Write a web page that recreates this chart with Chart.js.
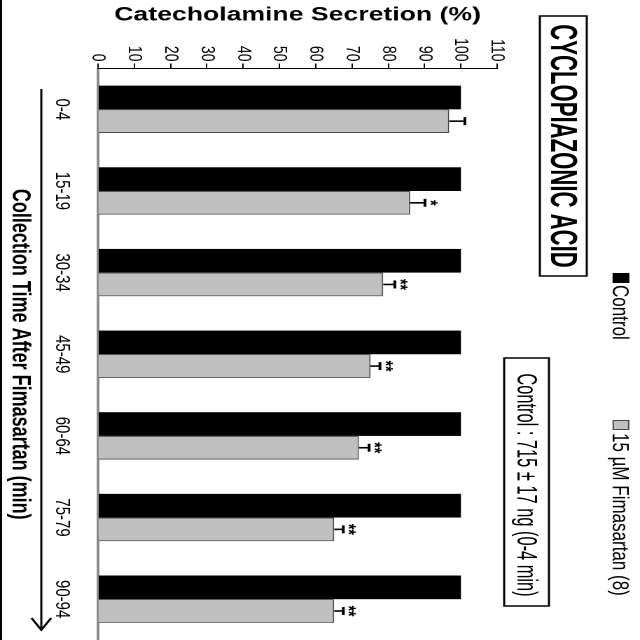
<!DOCTYPE html>
<html>
<head>
<meta charset="utf-8">
<script src="https://cdn.jsdelivr.net/npm/chart.js@4.4.0/dist/chart.umd.min.js"></script>
<style>
html, body { margin: 0; padding: 0; background: #fff; }
body { width: 640px; height: 640px; overflow: hidden; position: relative; }
/* the figure is drawn upright, then turned a quarter clockwise and stretched like the scan */
#wrap { position: absolute; left: 0; top: 0; width: 640px; height: 457px;
        transform-origin: 0 0; transform: matrix(0, 1, -1.4004, 0, 640, 0); }
</style>
</head>
<body>
<div id="wrap"><canvas id="chart" width="640" height="457"></canvas></div>
<script>
const categories = ['0-4', '15-19', '30-34', '45-49', '60-64', '75-79', '90-94'];
const controlValues = [100, 100, 100, 100, 100, 100, 100];
const fimaValues = [96.8, 86.0, 78.6, 75.1, 71.9, 65.1, 65.1];
const fimaSem = [4.3, 4.1, 3.2, 2.6, 2.8, 2.5, 2.5];
const fimaMarks = ['', '*', '**', '**', '**', '**', '**'];

const sans = "'Liberation Sans', Arial, sans-serif";
Chart.defaults.font.family = sans;
Chart.defaults.color = '#000';

// no narrow face installed, so squeeze the normal one
function narrowText(ctx, text, font, cx, cy, squeeze) {
    ctx.save();
    ctx.translate(cx, cy);
    ctx.scale(squeeze, 1);
    ctx.font = font;
    ctx.textAlign = 'center';
    ctx.textBaseline = 'middle';
    ctx.fillText(text, 0, 0);
    ctx.restore();
}

const decor = {
    id: 'decor',
    afterDatasetsDraw(chart) {
        const ctx = chart.ctx;
        const y = chart.scales.y;
        const meta = chart.getDatasetMeta(1);

        ctx.save();
        // SEM bars + significance marks
        ctx.strokeStyle = '#000';
        ctx.fillStyle = '#000';
        meta.data.forEach((bar, i) => {
            const top = y.getPixelForValue(fimaValues[i] + fimaSem[i]);
            ctx.lineWidth = 1.6;
            ctx.beginPath();
            ctx.moveTo(bar.x, bar.y);
            ctx.lineTo(bar.x, top);
            ctx.stroke();
            ctx.lineWidth = 2;
            ctx.beginPath();
            ctx.moveTo(bar.x - 4, top);
            ctx.lineTo(bar.x + 4, top);
            ctx.stroke();
            if (fimaMarks[i]) {
                ctx.font = 'bold 14px ' + sans;
                ctx.textAlign = 'center';
                ctx.textBaseline = 'alphabetic';
                ctx.fillText(fimaMarks[i], bar.x, top + 0.5);
            }
        });
        ctx.restore();
    },
    afterDraw(chart) {
        const ctx = chart.ctx;
        ctx.save();
        ctx.strokeStyle = '#000';
        ctx.fillStyle = '#000';

        // legend
        const legendX = [273, 420];
        const ly = 13.6;
        chart.data.datasets.forEach((ds, i) => {
            ctx.fillStyle = ds.backgroundColor;
            ctx.fillRect(legendX[i], ly - 6, 10, 12);
            if (ds.borderWidth) {
                ctx.strokeStyle = ds.borderColor;
                ctx.lineWidth = 1;
                ctx.strokeRect(legendX[i] + 0.5, ly - 5.5, 9, 11);
            }
            ctx.fillStyle = '#000';
            ctx.font = '17px ' + sans;
            ctx.textAlign = 'left';
            ctx.textBaseline = 'middle';
            ctx.fillText(ds.label, legendX[i] + (i ? 13 : 12), ly + 1);
        });

        // boxed notes
        ctx.strokeStyle = '#000';
        ctx.lineWidth = 1.5;
        ctx.strokeRect(16, 38, 260, 33.5);
        narrowText(ctx, 'CYCLOPIAZONIC ACID', 'bold 27px ' + sans, 146, 56, 0.82);
        ctx.strokeRect(358, 65, 248, 32);
        narrowText(ctx, 'Control : 715 \u00b1 17 ng (0-4 min)', '20px ' + sans, 485, 82, 0.82);

        // time arrow under the categories
        const ay = 427.5;
        ctx.lineWidth = 1.6;
        ctx.beginPath();
        ctx.moveTo(89, ay);
        ctx.lineTo(630, ay);
        ctx.moveTo(618, ay - 7);
        ctx.lineTo(630, ay);
        ctx.lineTo(618, ay + 7);
        ctx.stroke();

        // scan edge
        ctx.fillRect(0, chart.height - 1.5, chart.width, 1.5);
        ctx.restore();
    }
};

new Chart(document.getElementById('chart'), {
    type: 'bar',
    data: {
        labels: categories,
        datasets: [
            { label: 'Control', data: controlValues, backgroundColor: '#000000', borderColor: '#000000', borderWidth: 0 },
            { label: '15 \u00b5M Fimasartan (8)', data: fimaValues, backgroundColor: '#c0c0c0', borderColor: '#4a4a4a', borderWidth: 1 }
        ]
    },
    options: {
        responsive: false,
        animation: false,
        devicePixelRatio: 2,
        layout: { padding: { top: 102, left: 0, right: 0, bottom: 0 } },
        datasets: { bar: { categoryPercentage: 0.58, barPercentage: 1.0 } },
        plugins: { legend: { display: false }, tooltip: { enabled: false } },
        scales: {
            x: {
                grid: { display: false, drawTicks: false },
                border: { display: true, color: '#8c8c8c', width: 2 },
                ticks: { padding: 17, font: { size: 15 } },
                title: {
                    display: true,
                    text: 'Collection Time After Fimasartan (min)',
                    font: { size: 18, weight: 'bold' },
                    padding: { top: 0, bottom: 3 }
                },
                afterFit: (s) => { s.height = 70; }
            },
            y: {
                min: 0,
                max: 110,
                ticks: { stepSize: 10, padding: 2, font: { size: 14 } },
                grid: { drawOnChartArea: false, tickLength: 5, color: '#000' },
                border: { display: true, color: '#000', width: 1 },
                title: {
                    display: true,
                    text: 'Catecholamine Secretion (%)',
                    font: { size: 19, weight: 'bold' },
                    padding: { top: 4, bottom: 0 }
                },
                afterFit: (s) => { s.width = 68.5; }
            }
        }
    },
    plugins: [decor]
});
</script>
</body>
</html>
